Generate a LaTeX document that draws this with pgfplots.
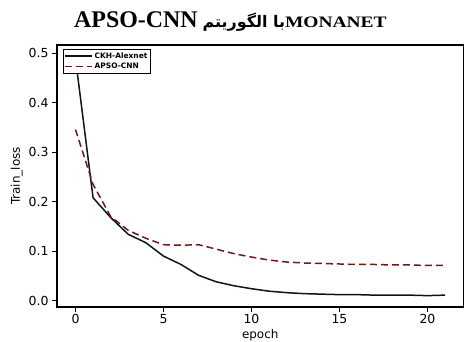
\documentclass[border=0pt]{standalone}
\usepackage{graphicx}
\usepackage{pgfplots}
\pgfplotsset{compat=1.18}
\usepackage{fontspec}
\setmainfont{Liberation Serif}
\newfontfamily\dejavu{DejaVu Sans}
\newfontfamily\arabicfont[Script=Arabic]{DejaVu Sans}
\TeXXeTstate=1
\definecolor{apso}{RGB}{110,25,25}
\definecolor{ckh}{RGB}{10,20,30}
\pgfplotstableread{
x ckh apso
0 0.490 0.346
1 0.208 0.235
2 0.168 0.170
3 0.134 0.142
4 0.117 0.126
5 0.090 0.113
6 0.073 0.112
7 0.051 0.113
8 0.038 0.104
9 0.030 0.095
10 0.024 0.088
11 0.019 0.082
12 0.016 0.078
13 0.014 0.076
14 0.013 0.075
15 0.012 0.074
16 0.012 0.073
17 0.011 0.073
18 0.011 0.072
19 0.011 0.072
20 0.010 0.071
21 0.011 0.0715
}\losstable
\begin{document}
\begin{tikzpicture}
\path[use as bounding box] (0bp,0bp) rectangle (464bp,342bp);
\node[anchor=base west,inner sep=0pt] at (74bp,314bp) {\fontsize{24}{26}\selectfont\bfseries APSO-CNN\hspace{5bp}{\fontsize{16}{18}\selectfont\arabicfont\bfseries\beginR با الگوریتم\endR}\scalebox{1.22}[1]{\fontsize{16}{18}\selectfont\bfseries MONANET}};
\begin{axis}[
  at={(57bp,35bp)}, anchor=south west,
  scale only axis, width=406.5bp, height=262bp,
  xmin=-1.05, xmax=22.05, ymin=-0.013, ymax=0.517,
  xtick={0,5,10,15,20}, ytick={0,0.1,0.2,0.3,0.4,0.5},
  yticklabel style={/pgf/number format/.cd, fixed, fixed zerofill, precision=1},
  tick align=outside, tick pos=left, major tick length=5bp,
  every tick/.style={black, line width=1pt},
  /pgf/number format/assume math mode=true,
  ticklabel style={font=\fontsize{12.5}{14}\selectfont\dejavu},
  xticklabel style={yshift=1bp},
  axis line style={line width=1.2pt},
  xlabel={epoch}, ylabel={Train\_loss},
  label style={font=\fontsize{12}{14}\selectfont\dejavu},
  xlabel style={at={(axis description cs:0.5,-0.121)}, anchor=base},
  ylabel style={at={(axis description cs:-0.099,0.5)}, anchor=center},
  legend cell align=left,
  legend style={at={(0.014,0.985)}, anchor=north west, draw=black, line width=0.9pt,
    font=\fontsize{7.5}{8.5}\selectfont\dejavu\bfseries, inner sep=1.5bp, row sep=0.5bp,
    nodes={inner sep=1.5bp}},
  legend image code/.code={\draw[#1] (0bp,0bp) -- (27bp,0bp);},
  clip=true,
]
\addplot[ckh, line width=1.5pt] table[x=x, y=ckh] {\losstable};
\addlegendentry{CKH-Alexnet}
\addplot[apso, line width=1.5pt, dash pattern=on 7bp off 4bp] table[x=x, y=apso] {\losstable};
\addlegendentry{APSO-CNN}
\end{axis}
\end{tikzpicture}
\end{document}
